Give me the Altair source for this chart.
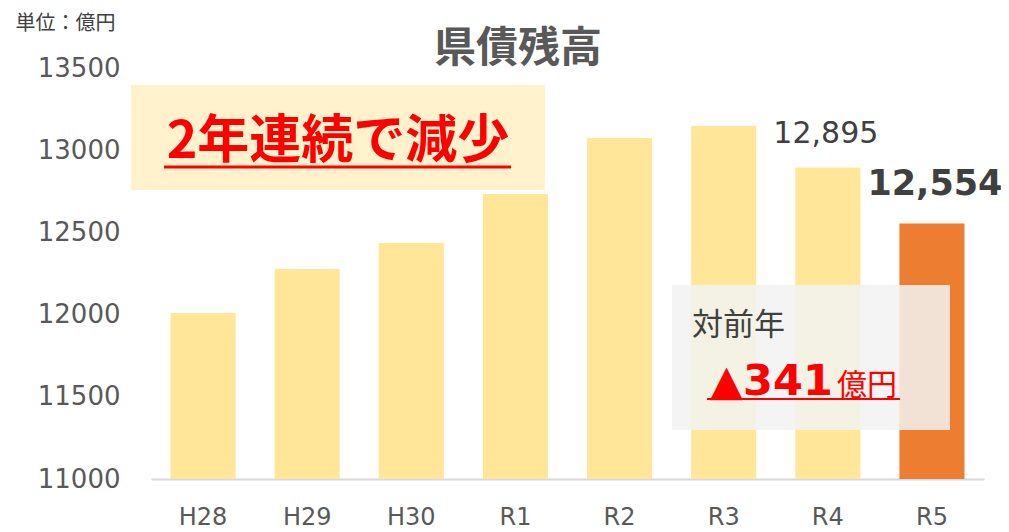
import altair as alt
import pandas as pd

FONT = "DejaVu Sans, Noto Sans CJK JP"
CJK = "Noto Sans CJK JP"

years = ["H28", "H29", "H30", "R1", "R2", "R3", "R4", "R5"]
values = [12010, 12277, 12436, 12734, 13074, 13147, 12895, 12554]
y_ticks = [11000, 11500, 12000, 12500, 13000, 13500]

title_text = "県債残高"
unit_text = "単位：億円"
headline_text = "2年連続で減少"
yoy_label = "対前年"
yoy_value = "▲341"
yoy_unit = "億円"

df = pd.DataFrame({"year": years, "value": values})
one = pd.DataFrame({"k": [0]})

x_enc = alt.X(
    "year:N", sort=years,
    scale=alt.Scale(paddingInner=0.375, paddingOuter=0.1875),
    axis=alt.Axis(title=None, labelAngle=0, labelFontSize=24, labelFont=FONT,
                  labelColor="#595959", labelPadding=26, ticks=False,
                  domainColor="#d9d9d9", domainWidth=2),
)
y_enc = alt.Y(
    "value:Q",
    scale=alt.Scale(domain=[11000, 13500], nice=False, zero=False),
    axis=alt.Axis(values=y_ticks, format="d", title=unit_text, titleAngle=0,
                  titleX=-136, titleY=-45, titleAlign="left", titleBaseline="middle",
                  titleFontSize=20, titleFontWeight="normal", titleFont=CJK,
                  titleColor="#404040", labelFontSize=26, labelFont=FONT,
                  labelColor="#595959", labelPadding=31, ticks=False,
                  domain=False, grid=False),
)

bars = alt.Chart(df).mark_bar().encode(
    x=x_enc,
    y=y_enc,
    y2=alt.datum(11000),
    color=alt.condition(alt.datum.year == "R5", alt.value("#ed7d31"), alt.value("#ffe699")),
)

lbl_r4 = alt.Chart(df).transform_filter(alt.datum.year == "R4").mark_text(
    font=FONT, fontSize=30, color="#404040", baseline="alphabetic", dy=-24, dx=-2
).encode(x=alt.X("year:N", sort=years), y="value:Q", text=alt.Text("value:Q", format=","))

lbl_r5 = alt.Chart(df).transform_filter(alt.datum.year == "R5").mark_text(
    font=FONT, fontSize=35, fontWeight="bold", color="#404040", baseline="alphabetic",
    dy=-29, dx=3
).encode(x=alt.X("year:N", sort=years), y="value:Q", text=alt.Text("value:Q", format=","))

title = alt.Chart(one).mark_text(
    font=CJK, fontSize=42, fontWeight="bold", color="#595959", baseline="middle"
).encode(x=alt.value(367), y=alt.value(-19), text=alt.datum(title_text))

box1 = alt.Chart(one).mark_rect(color="#fff2cc").encode(
    x=alt.value(-20), x2=alt.value(394), y=alt.value(17), y2=alt.value(122))
head = alt.Chart(one).mark_text(
    font=CJK, fontSize=52, fontWeight="bold", color="#ff0000", baseline="middle"
).encode(x=alt.value(187), y=alt.value(74), text=alt.datum(headline_text))
head_ul = alt.Chart(one).mark_rule(color="#ff0000", strokeWidth=3).encode(
    x=alt.value(13), x2=alt.value(360), y=alt.value(99))

box2 = alt.Chart(one).mark_rect(color="#f2f2f2", opacity=0.85).encode(
    x=alt.value(521), x2=alt.value(799), y=alt.value(217), y2=alt.value(362))
yoy1 = alt.Chart(one).mark_text(
    font=CJK, fontSize=31, color="#404040", align="left", baseline="middle"
).encode(x=alt.value(541), y=alt.value(258), text=alt.datum(yoy_label))
yoy2 = alt.Chart(one).mark_text(
    font=FONT, fontSize=43, fontWeight="bold", color="#ff0000", align="left", baseline="alphabetic"
).encode(x=alt.value(559), y=alt.value(327), text=alt.datum(yoy_value))
yoy3 = alt.Chart(one).mark_text(
    font=CJK, fontSize=30, color="#ff0000", align="left", baseline="alphabetic"
).encode(x=alt.value(686), y=alt.value(327), text=alt.datum(yoy_unit))
yoy_ul = alt.Chart(one).mark_rule(color="#ff0000", strokeWidth=2).encode(
    x=alt.value(556), x2=alt.value(749), y=alt.value(331))

chart = alt.layer(
    bars, box1, head, head_ul, box2, yoy1, yoy2, yoy3, yoy_ul, lbl_r4, lbl_r5, title
).properties(
    width=833, height=411,
    autosize=alt.AutoSizeParams(type="none"),
    padding={"left": 143, "top": 60, "right": 17, "bottom": 53},
).configure_view(stroke=None)

chart.save("out.html", embed_options={"renderer": "svg", "actions": False})
